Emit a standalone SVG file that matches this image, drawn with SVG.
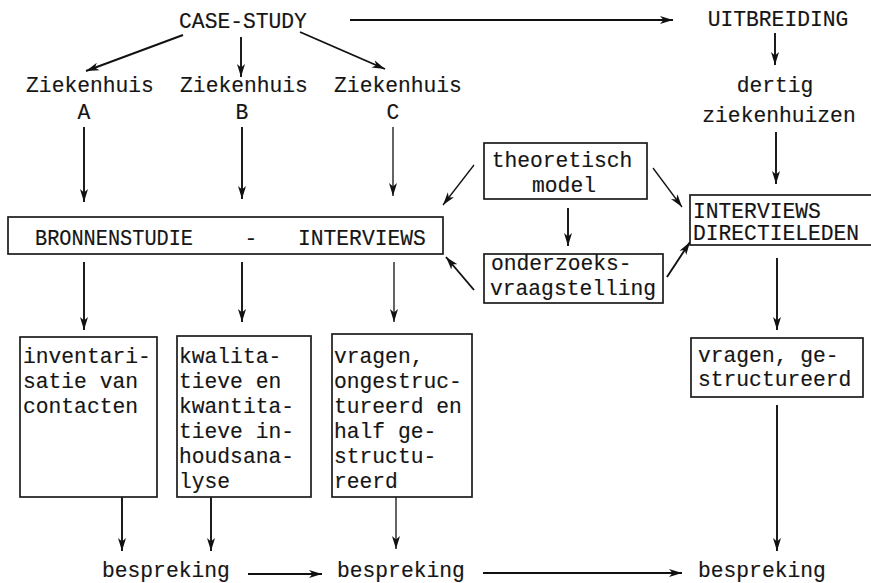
<svg xmlns="http://www.w3.org/2000/svg" width="871" height="583" viewBox="0 0 871 583">
<style>
text{font-family:"Liberation Mono","Courier New",monospace;font-size:21.3px;fill:#151515;stroke:#151515;stroke-width:0.15}
.c{text-anchor:middle}
.box{fill:#fff;stroke:#1c1c1c;stroke-width:1.7}
.ln{stroke:#111;stroke-width:1.9;fill:none;marker-end:url(#ah)}
.thin{stroke-width:1.3}
</style>
<defs>
<marker id="ah" markerWidth="14" markerHeight="10" refX="13" refY="4.5" orient="auto" markerUnits="userSpaceOnUse">
<path d="M0,0.5 L13,4.5 L0,8.5 L3.5,4.5 z" fill="#111"/>
</marker>
</defs>
<rect width="871" height="583" fill="#fff"/>
<g id="connectors">
<line class="ln" x1="350" y1="20" x2="673" y2="20"/>
<line class="ln" x1="183" y1="35" x2="86" y2="71"/>
<line class="ln" x1="241" y1="37" x2="241" y2="77"/>
<line class="ln" x1="300" y1="32" x2="385" y2="69"/>
<line class="ln" x1="775" y1="33" x2="775" y2="65"/>
<line class="ln" x1="84" y1="127" x2="84" y2="202"/>
<line class="ln" x1="242" y1="127" x2="242" y2="199"/>
<line class="ln thin" x1="393" y1="127" x2="393" y2="196"/>
<line class="ln" x1="776" y1="132" x2="776" y2="184"/>
<line class="ln thin" x1="474" y1="165" x2="443" y2="205"/>
<line class="ln" x1="474" y1="290" x2="446" y2="257"/>
<line class="ln thin" x1="653" y1="168" x2="682" y2="207"/>
<line class="ln" x1="667" y1="277" x2="690" y2="242"/>
<line class="ln" x1="568" y1="208" x2="568" y2="246"/>
<line class="ln" x1="84" y1="262" x2="84" y2="330"/>
<line class="ln" x1="242" y1="262" x2="242" y2="322"/>
<line class="ln thin" x1="394" y1="262" x2="394" y2="322"/>
<line class="ln" x1="777" y1="258" x2="777" y2="330"/>
<line class="ln" x1="122" y1="497" x2="122" y2="551"/>
<line class="ln" x1="211" y1="497" x2="211" y2="551"/>
<line class="ln thin" x1="396" y1="497" x2="396" y2="549"/>
<line class="ln" x1="777" y1="405" x2="777" y2="551"/>
<line class="ln" x1="248" y1="574" x2="322" y2="574"/>
<line class="ln" x1="483" y1="573" x2="682" y2="573"/>
</g>
<g id="case-study"><text x="243" y="28" class="c">CASE-STUDY</text></g>
<g id="uitbreiding"><text x="778" y="26" class="c">UITBREIDING</text></g>
<g id="ziekenhuis-a"><text x="90" y="92" class="c">Ziekenhuis</text><text x="84" y="119" class="c">A</text></g>
<g id="ziekenhuis-b"><text x="244" y="92" class="c">Ziekenhuis</text><text x="242" y="119" class="c">B</text></g>
<g id="ziekenhuis-c"><text x="398" y="92" class="c">Ziekenhuis</text><text x="393" y="119" class="c">C</text></g>
<g id="dertig"><text x="775" y="92" class="c">dertig</text><text x="779" y="122" class="c">ziekenhuizen</text></g>
<g id="bronnenstudie">
<rect class="box" x="8" y="217" width="435" height="37"/>
<text x="35" y="245" textLength="158" lengthAdjust="spacingAndGlyphs">BRONNENSTUDIE</text><text x="251" y="245" class="c">-</text><text x="298" y="245">INTERVIEWS</text>
</g>
<g id="theoretisch-model">
<rect class="box" x="484" y="143" width="163" height="56"/>
<text x="562" y="167" class="c">theoretisch</text><text x="564" y="192" class="c">model</text>
</g>
<g id="onderzoeksvraagstelling">
<rect class="box" x="484" y="254" width="179" height="49"/>
<text x="491" y="270">onderzoeks-</text><text x="490" y="295">vraagstelling</text>
</g>
<g id="interviews-directieleden">
<rect class="box" x="690" y="195" width="185" height="50"/>
<text x="693" y="218">INTERVIEWS</text><text x="693" y="240">DIRECTIELEDEN</text>
</g>
<g id="inventarisatie">
<rect class="box" x="20" y="337" width="137" height="160"/>
<text x="23" y="363">inventari-</text><text x="23" y="388">satie van</text><text x="23" y="413">contacten</text>
</g>
<g id="inhoudsanalyse">
<rect class="box" x="177" y="336" width="134" height="161"/>
<text x="179" y="363">kwalita-</text><text x="179" y="388">tieve en</text><text x="179" y="413">kwantita-</text><text x="179" y="438">tieve in-</text><text x="179" y="463">houdsana-</text><text x="179" y="488">lyse</text>
</g>
<g id="vragen-ongestructureerd">
<rect class="box" x="332" y="334" width="140" height="163"/>
<text x="334" y="363">vragen,</text><text x="334" y="388">ongestruc-</text><text x="334" y="413">tureerd en</text><text x="334" y="438">half ge-</text><text x="334" y="463">structu-</text><text x="334" y="488">reerd</text>
</g>
<g id="vragen-gestructureerd">
<rect class="box" x="691" y="338" width="172" height="59"/>
<text x="698" y="362">vragen, ge-</text><text x="698" y="386">structureerd</text>
</g>
<g id="bespreking-1"><text x="102" y="577">bespreking</text></g>
<g id="bespreking-2"><text x="337" y="577">bespreking</text></g>
<g id="bespreking-3"><text x="698" y="577">bespreking</text></g>
</svg>
